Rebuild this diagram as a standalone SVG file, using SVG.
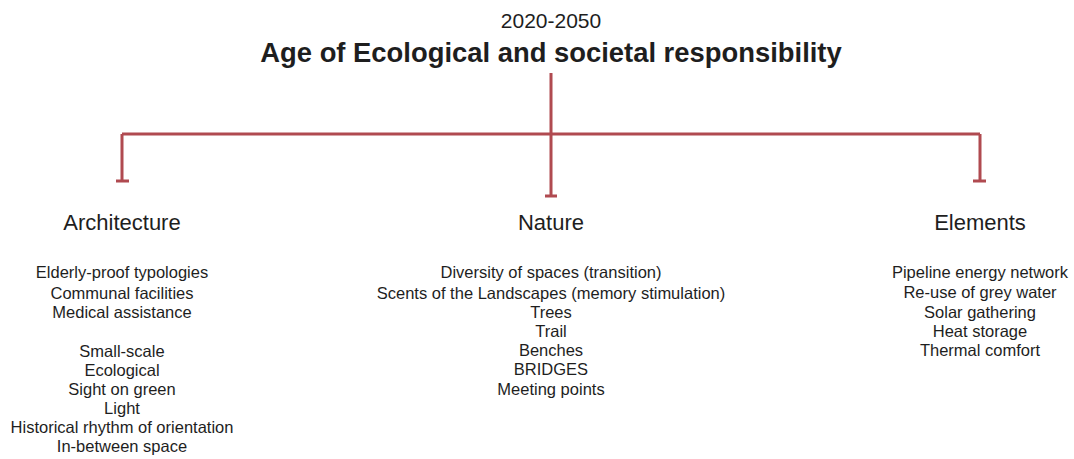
<svg xmlns="http://www.w3.org/2000/svg" width="1074" height="459" viewBox="0 0 1074 459">
<style>
text{font-family:"Liberation Sans",Arial,sans-serif;fill:#1e1e1e;text-anchor:middle}
.yr{font-size:21px}
.ttl{font-size:27.4px;font-weight:bold}
.hd{font-size:22px}
.it{font-size:16.5px}
.ln{stroke:#b04a50;stroke-width:3;fill:none}
</style>
<rect width="1074" height="459" fill="#ffffff"/>
<g id="title">
<text class="yr" x="551" y="28">2020-2050</text>
<text class="ttl" x="551" y="62">Age of Ecological and societal responsibility</text>
</g>
<g id="connectors">
<path class="ln" d="M551 73V196M122 134H980M122 134V181M980 134V181"/>
<path class="ln" d="M116 181H129M545 196H557M973 181H986"/>
</g>
<g id="architecture">
<text class="hd" x="122" y="230">Architecture</text>
<text class="it" x="122" y="278">Elderly-proof typologies</text>
<text class="it" x="122" y="299">Communal facilities</text>
<text class="it" x="122" y="318">Medical assistance</text>
<text class="it" x="122" y="357">Small-scale</text>
<text class="it" x="122" y="376">Ecological</text>
<text class="it" x="122" y="395">Sight on green</text>
<text class="it" x="122" y="414">Light</text>
<text class="it" x="122" y="433">Historical rhythm of orientation</text>
<text class="it" x="122" y="452">In-between space</text>
</g>
<g id="nature">
<text class="hd" x="551" y="230">Nature</text>
<text class="it" x="551" y="278">Diversity of spaces (transition)</text>
<text class="it" x="551" y="299">Scents of the Landscapes (memory stimulation)</text>
<text class="it" x="551" y="318">Trees</text>
<text class="it" x="551" y="337">Trail</text>
<text class="it" x="551" y="356">Benches</text>
<text class="it" x="551" y="375">BRIDGES</text>
<text class="it" x="551" y="395">Meeting points</text>
</g>
<g id="elements">
<text class="hd" x="980" y="230">Elements</text>
<text class="it" x="980" y="278">Pipeline energy network</text>
<text class="it" x="980" y="298">Re-use of grey water</text>
<text class="it" x="980" y="318">Solar gathering</text>
<text class="it" x="980" y="337">Heat storage</text>
<text class="it" x="980" y="356">Thermal comfort</text>
</g>
</svg>
